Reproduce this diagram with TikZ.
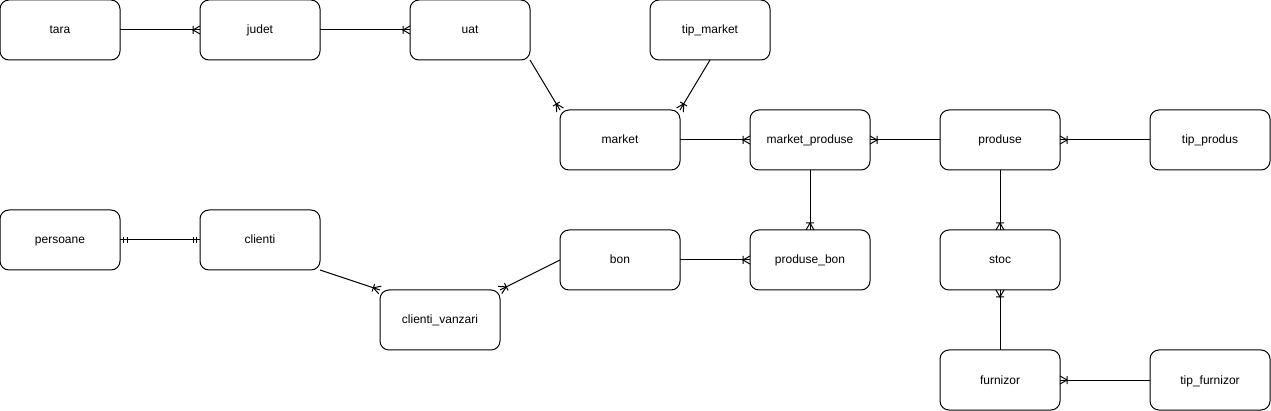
\documentclass[tikz,border=0pt]{standalone}
\usepackage{fontspec}
\setmainfont{Liberation Sans}
\usepackage{tikz}
\usetikzlibrary{positioning, arrows.meta}
\pgfdeclarearrow{
  name = onemanytip,
  parameters = {\the\pgfarrowlength,\the\pgfarrowwidth},
  setup code = {
    \pgfarrowssettipend{0pt}
    \pgfarrowssetlineend{0pt}
    \pgfarrowssetbackend{-\pgfarrowlength}
    \pgfarrowssetvisualbackend{-\pgfarrowlength}
    \pgfarrowshullpoint{0pt}{.5\pgfarrowwidth}
    \pgfarrowshullpoint{0pt}{-.5\pgfarrowwidth}
    \pgfarrowshullpoint{-\pgfarrowlength}{.5\pgfarrowwidth}
    \pgfarrowshullpoint{-\pgfarrowlength}{-.5\pgfarrowwidth}
    \pgfarrowssavethe\pgfarrowlength
    \pgfarrowssavethe\pgfarrowwidth
  },
  drawing code = {
    \pgfpathmoveto{\pgfqpoint{0pt}{.5\pgfarrowwidth}}
    \pgfpathlineto{\pgfqpoint{-\pgfarrowlength}{0pt}}
    \pgfpathlineto{\pgfqpoint{0pt}{-.5\pgfarrowwidth}}
    \pgfpathmoveto{\pgfqpoint{-\pgfarrowlength}{.5\pgfarrowwidth}}
    \pgfpathlineto{\pgfqpoint{-\pgfarrowlength}{-.5\pgfarrowwidth}}
    \pgfusepathqstroke
  },
  defaults = {length = 7pt, width = 8pt}
}
\pgfdeclarearrow{
  name = onlyonetip,
  parameters = {\the\pgfarrowlength,\the\pgfarrowwidth},
  setup code = {
    \pgfarrowssettipend{0pt}
    \pgfarrowssetlineend{0pt}
    \pgfarrowssetbackend{-\pgfarrowlength}
    \pgfarrowssetvisualbackend{-\pgfarrowlength}
    \pgfarrowshullpoint{0pt}{.5\pgfarrowwidth}
    \pgfarrowshullpoint{0pt}{-.5\pgfarrowwidth}
    \pgfarrowshullpoint{-\pgfarrowlength}{.5\pgfarrowwidth}
    \pgfarrowshullpoint{-\pgfarrowlength}{-.5\pgfarrowwidth}
    \pgfarrowssavethe\pgfarrowlength
    \pgfarrowssavethe\pgfarrowwidth
  },
  drawing code = {
    \pgfpathmoveto{\pgfqpoint{-.57\pgfarrowlength}{.5\pgfarrowwidth}}
    \pgfpathlineto{\pgfqpoint{-.57\pgfarrowlength}{-.5\pgfarrowwidth}}
    \pgfpathmoveto{\pgfqpoint{-\pgfarrowlength}{.5\pgfarrowwidth}}
    \pgfpathlineto{\pgfqpoint{-\pgfarrowlength}{-.5\pgfarrowwidth}}
    \pgfusepathqstroke
  },
  defaults = {length = 7pt, width = 6pt}
}
\tikzstyle{entity} = [rectangle, draw, rounded corners=9pt, line width=1pt,
minimum width=120pt, minimum height=60pt, text centered, inner sep=0pt, outer sep=0pt,
text height=10pt, text depth=2pt]
\tikzstyle{onemany} = [line width=1pt, -onemanytip]
\tikzstyle{oneone} = [line width=1pt, onlyonetip-onlyonetip]

\begin{document}
\begin{tikzpicture}[x=1pt, y=1pt]
                \tikzstyle{every node}=[font=\fontsize{12}{14}\selectfont]
                \useasboundingbox (0,0) rectangle (1271,-411);
                \node (tara) [entity] at (60,-30) {tara};
                \node (judet) [entity, right=80pt of tara] {judet};
                \node (uat) [entity, right=90pt of judet] {uat};
                \node (tipmarket) [entity, right=120pt of uat] {tip\_market};
                \node (market) [entity, below=50pt of uat, xshift=150pt] {market};
                \node (marketproduse) [entity, right=70pt of market] {market\_produse};
                \node (produse) [entity, right=70pt of marketproduse] {produse};
                \node (tipprodus) [entity, right=90pt of produse] {tip\_produs};
                \node (persoane) [entity, below=150pt of tara] {persoane};
                \node (clienti) [entity, right=80pt of persoane] {clienti};
                \node (bon) [entity, below=60pt of market] {bon};
                \node (produsebon) [entity, below=60pt of marketproduse] {produse\_bon};
                \node (stoc) [entity, below=60pt of produse] {stoc};
                \node (clientivanzari) [entity, below=20pt of clienti, xshift=180pt] {clienti\_vanzari};
                \node (furnizor) [entity, below=60pt of stoc] {furnizor};
                \node (tipfurnizor) [entity, right=90pt of furnizor] {tip\_furnizor};
                \draw [onemany] (tara) -- (judet);
                \draw [onemany] (judet) -- (uat);
                \draw [onemany] (uat.south east) -- (market.north west);
                \draw [onemany] (tipmarket.south) -- (market.north east);
                \draw [onemany] (market) -- (marketproduse);
                \draw [onemany] (produse) -- (marketproduse);
                \draw [onemany] (tipprodus) -- (produse);
                \draw [onemany] (marketproduse) -- (produsebon);
                \draw [onemany] (produse) -- (stoc);
                \draw [onemany] (furnizor) -- (stoc);
                \draw [onemany] (tipfurnizor) -- (furnizor);
                \draw [onemany] (bon) -- (produsebon);
                \draw [oneone] (persoane) -- (clienti);
                \draw [onemany] (clienti.south east) -- (clientivanzari.north west);
                \draw [onemany] (bon.west) -- (clientivanzari.north east);
        \end{tikzpicture}
\end{document}
